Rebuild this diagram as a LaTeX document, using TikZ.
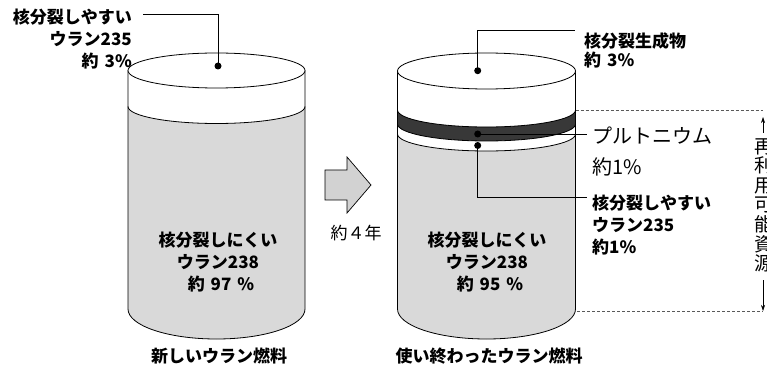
\documentclass[tikz,border=0pt]{standalone}
\usepackage{fontspec}
\usetikzlibrary{arrows.meta}
\setmainfont{Noto Sans CJK JP}
\definecolor{fuel}{gray}{0.85}
\definecolor{band}{gray}{0.22}
\definecolor{dashgray}{gray}{0.35}
\newcommand{\gap}{\hspace{0.35em}}
\begin{document}
\begin{tikzpicture}[x=1pt,y=-1pt,
  outline/.style={draw=black, line width=0.8pt},
  leader/.style={draw=black, line width=0.6pt},
  dot/.style={circle, fill=black, inner sep=0pt, minimum size=7pt},
  boldlbl/.style={inner sep=0pt, font=\fontsize{17}{22}\selectfont\bfseries},
  thinlbl/.style={inner sep=0pt, font=\fontsize{17}{22}\selectfont},
  rangeline/.style={draw=dashgray, line width=0.6pt, dash pattern=on 3pt off 2pt},
  rangearrow/.style={draw=black, line width=0.6pt, -{Stealth[length=6pt,width=4pt]}},
]
\useasboundingbox (0,0) rectangle (767,371);

% ---------- fresh fuel cylinder ----------
\fill[fuel] (128,106.5) arc[start angle=180,end angle=360,x radius=88.5pt,y radius=17pt]
  -- (305,309) arc[start angle=0,end angle=-180,x radius=88.5pt,y radius=30pt] -- cycle;
\draw[outline] (128,106.5) arc[start angle=180,end angle=360,x radius=88.5pt,y radius=17pt];
\draw[outline] (128,70.5) -- (128,309)
  arc[start angle=180,end angle=360,x radius=88.5pt,y radius=30pt] -- (305,70.5);
\draw[outline, fill=white] (216.5,70.5) ellipse[x radius=88.5pt,y radius=17.5pt];

% ---------- spent fuel cylinder ----------
\fill[band] (397.5,110) arc[start angle=180,end angle=360,x radius=89pt,y radius=17pt]
  -- (575.5,124) arc[start angle=360,end angle=180,x radius=89pt,y radius=17pt] -- cycle;
\fill[fuel] (397.5,134) arc[start angle=180,end angle=360,x radius=89pt,y radius=17pt]
  -- (575.5,309) arc[start angle=0,end angle=-180,x radius=89pt,y radius=30pt] -- cycle;
\draw[outline] (397.5,110) arc[start angle=180,end angle=360,x radius=89pt,y radius=17pt];
\draw[outline] (397.5,124) arc[start angle=180,end angle=360,x radius=89pt,y radius=17pt];
\draw[outline] (397.5,134) arc[start angle=180,end angle=360,x radius=89pt,y radius=17pt];
\draw[outline] (397.5,71) -- (397.5,309)
  arc[start angle=180,end angle=360,x radius=89pt,y radius=30pt] -- (575.5,71);
\draw[outline, fill=white] (486.5,71) ellipse[x radius=89pt,y radius=18pt];

% ---------- block arrow between the cylinders ----------
\draw[line width=0.7pt, fill=gray!35]
  (325,170) -- (347,170) -- (347,157) -- (371,185) -- (347,213) -- (347,200) -- (325,200) -- cycle;
\node[thinlbl, anchor=north] (years) at (356,225) {約４年};

% ---------- marker dots ----------
\node[dot] (dotL) at (218,66) {};
\node[dot] (dotFP) at (477.7,70.7) {};
\node[dot] (dotPu) at (477.7,134) {};
\node[dot] (dotU) at (477.7,145.5) {};

% ---------- leader ends ----------
\coordinate (endL) at (143,14);
\coordinate (endFP) at (575,30);
\coordinate (endPu) at (587,134);
\coordinate (endU) at (587,197);

\draw[leader] (dotL.center) |- (endL);
\draw[leader] (dotFP.center) |- (endFP);
\draw[leader] (dotPu.center) -- (endPu);
\draw[leader] (dotU.center) |- (endU);

% ---------- labels ----------
\node[boldlbl, align=right, anchor=north east] (lblL) at (132,9) {核分裂しやすい\\ウラン235\\約\gap 3\%};
\node[boldlbl, align=left, anchor=north west, font=\fontsize{17}{19}\selectfont\bfseries] (lblFP) at (584,32) {核分裂生成物\\約\gap 3\%};
\node[thinlbl, align=left, anchor=north west, font=\fontsize{20}{31}\selectfont] (lblPu) at (592,127) {プルトニウム\\約1\%};
\node[boldlbl, align=left, anchor=north west] (lblU) at (592,195) {核分裂しやすい\\ウラン235\\約1\%};
\node[boldlbl, align=center, anchor=north] (inL) at (218,232) {核分裂しにくい\\ウラン238\\\gap 約\gap 97\gap \%};
\node[boldlbl, align=center, anchor=north] (inR) at (487,232) {核分裂しにくい\\ウラン238\\\gap 約\gap 95\gap \%};
\node[boldlbl, anchor=north] (capL) at (219,348) {新しいウラン燃料};
\node[boldlbl, anchor=north] (capR) at (489,348) {使い終わったウラン燃料};

% ---------- reusable-resource range ----------
\coordinate (rTopA) at (575.5,110.7);
\coordinate (rTopB) at (763,110.7);
\coordinate (rBotA) at (577,311);
\coordinate (rBotB) at (763,311);
\draw[rangeline] (rTopA) -- (rTopB);
\draw[rangeline] (rBotA) -- (rBotB);
\node[thinlbl, align=center, anchor=north, font=\fontsize{19}{19.6}\selectfont] (res) at (764,138) {再\\利\\用\\可\\能\\資\\源};
\coordinate (upTip) at (763,117);
\coordinate (downTip) at (763,311);
\draw[rangearrow] (763,133) -- (upTip);
\draw[rangearrow] (763,280) -- (downTip);
\end{tikzpicture}
\end{document}
